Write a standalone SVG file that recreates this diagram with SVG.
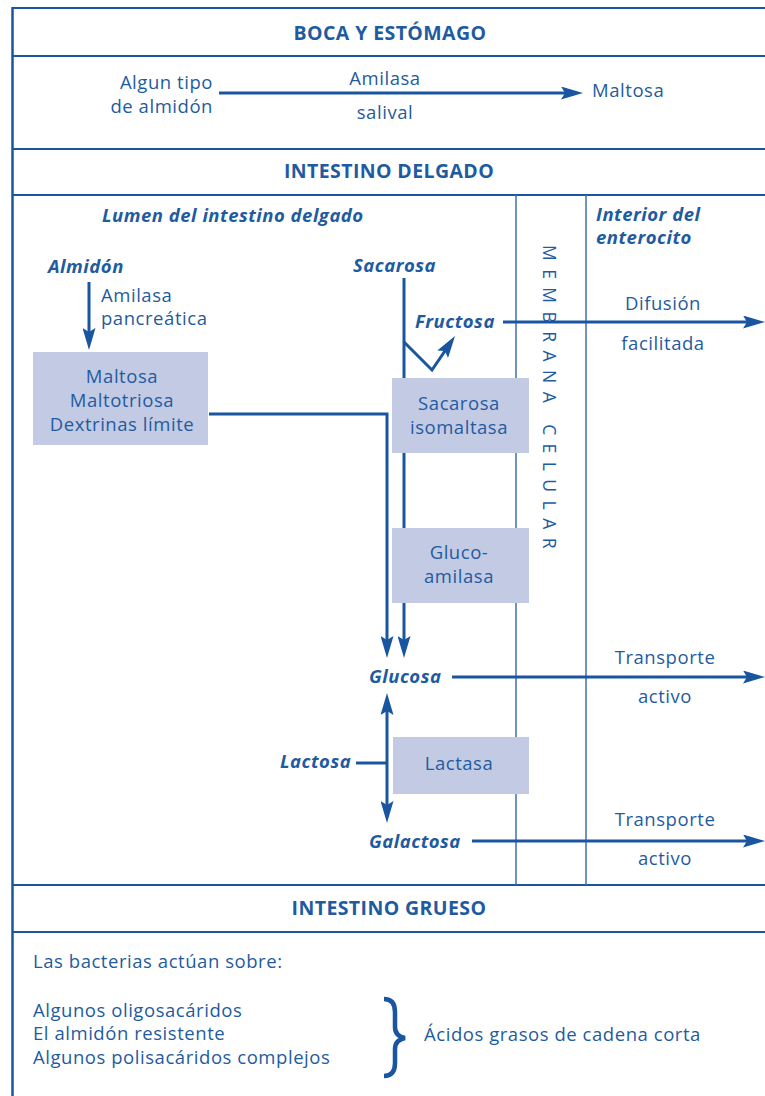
<svg xmlns="http://www.w3.org/2000/svg" width="765" height="1096" viewBox="0 0 765 1096">
<style>
text{font-family:"Open Sans","Liberation Sans",sans-serif;fill:#1f5ba0;font-size:18.5px;letter-spacing:0.55px}
.t{font-weight:bold;font-size:19.5px;letter-spacing:0.4px}
.bi{font-weight:bold;font-style:italic;letter-spacing:0.5px}
.m{text-anchor:middle}
.e{text-anchor:end}
.frame{stroke:#1a56a0;stroke-width:2;fill:none}
.mem{stroke:#3d70b0;stroke-width:1.5;fill:none}
.arr{stroke:#1a56a0;stroke-width:3;fill:none;marker-end:url(#ah)}
.ln{stroke:#1a56a0;stroke-width:3;fill:none}
.box{fill:#c3cae4}
</style>
<defs>
<marker id="ah" markerUnits="userSpaceOnUse" markerWidth="22" markerHeight="13" viewBox="0 0 22 13" refX="12" refY="6.5" orient="auto">
<path d="M0,0 L22,6.5 L0,13 L4,6.5 z" fill="#1a56a0"/>
</marker>
</defs>
<rect width="765" height="1096" fill="#ffffff"/>
<g id="frame">
<line class="frame" x1="12" y1="8" x2="765" y2="8"/>
<line class="frame" x1="12" y1="56" x2="765" y2="56"/>
<line class="frame" x1="12" y1="149" x2="765" y2="149"/>
<line class="frame" x1="12" y1="195" x2="765" y2="195"/>
<line class="frame" x1="12" y1="885" x2="765" y2="885"/>
<line class="frame" x1="12" y1="932" x2="765" y2="932"/>
<line class="frame" x1="12.5" y1="7" x2="12.5" y2="1096" style="stroke-width:2.5"/>
<line class="mem" x1="516" y1="195" x2="516" y2="885"/>
<line class="mem" x1="586" y1="195" x2="586" y2="885"/>
</g>
<g id="titles">
<text class="t m" x="390" y="40">BOCA Y ESTÓMAGO</text>
<text class="t m" x="389" y="178">INTESTINO DELGADO</text>
<text class="t m" x="389" y="915">INTESTINO GRUESO</text>
</g>
<g id="boca">
<text class="e" x="213" y="89">Algun tipo</text>
<text class="e" x="213" y="113">de almidón</text>
<text class="m" x="385" y="85">Amilasa</text>
<text class="m" x="385" y="119">salival</text>
<text x="592" y="97">Maltosa</text>
</g>
<g id="regions">
<text class="bi" x="102" y="222">Lumen del intestino delgado</text>
<text class="bi" x="596" y="221">Interior del</text>
<text class="bi" x="596" y="244">enterocito</text>
<text x="543" y="245" transform="rotate(90 543 245)" textLength="304" lengthAdjust="spacing" style="font-size:17.5px">MEMBRANA CELULAR</text>
</g>
<g id="connectors">
<path class="arr" d="M219,93 H573"/>
<path class="arr" d="M89,282 V340"/>
<path class="arr" d="M209,414 H387 V648"/>
<path class="arr" d="M404,278 V648"/>
<path class="arr" d="M404,342 L432,370 L449.4,344.3"/>
<path class="arr" d="M503,322 H755"/>
<path class="arr" d="M452,677 H755"/>
<path class="arr" d="M472,841 H755"/>
<path class="arr" d="M387,763 V703"/>
<path class="arr" d="M387,763 V813"/>
<path class="ln" d="M356,763 H387"/>
</g>
<g id="almidon">
<text class="bi" x="48" y="273">Almidón</text>
<text x="101" y="302">Amilasa</text>
<text x="101" y="325">pancreática</text>
</g>
<g id="box-maltosa">
<rect class="box" x="33" y="352" width="175" height="93"/>
<text class="m" x="122" y="383">Maltosa</text>
<text class="m" x="122" y="407">Maltotriosa</text>
<text class="m" x="122" y="431">Dextrinas límite</text>
</g>
<g id="sacarosa">
<text class="bi" x="353" y="272">Sacarosa</text>
</g>
<g id="fructosa">
<text class="bi" x="415" y="328">Fructosa</text>
<text class="m" x="663" y="310">Difusión</text>
<text class="m" x="663" y="350">facilitada</text>
</g>
<g id="box-sacarosa-isomaltasa">
<rect class="box" x="392" y="378" width="137" height="75"/>
<text class="m" x="459" y="410">Sacarosa</text>
<text class="m" x="459" y="434">isomaltasa</text>
</g>
<g id="box-glucoamilasa">
<rect class="box" x="392" y="528" width="137" height="75"/>
<text class="m" x="459" y="559">Gluco-</text>
<text class="m" x="459" y="583">amilasa</text>
</g>
<g id="glucosa">
<text class="bi" x="369" y="683">Glucosa</text>
<text class="m" x="665" y="664">Transporte</text>
<text class="m" x="665" y="703">activo</text>
</g>
<g id="lactosa">
<text class="bi" x="280" y="768">Lactosa</text>
</g>
<g id="box-lactasa">
<rect class="box" x="393" y="737" width="136" height="57"/>
<text class="m" x="459" y="770">Lactasa</text>
</g>
<g id="galactosa">
<text class="bi" x="369" y="848">Galactosa</text>
<text class="m" x="665" y="826">Transporte</text>
<text class="m" x="665" y="865">activo</text>
</g>
<g id="grueso">
<text x="33" y="968">Las bacterias actúan sobre:</text>
<text x="33" y="1017">Algunos oligosacáridos</text>
<text x="33" y="1040">El almidón resistente</text>
<text x="33" y="1064">Algunos polisacáridos complejos</text>
<path d="M384,999 Q395,999 395,1012 L395,1027 Q395,1036 405,1038 Q395,1040 395,1049 L395,1063 Q395,1076 384,1076" fill="none" stroke="#1a56a0" stroke-width="4.5"/>
<text x="424" y="1041">Ácidos grasos de cadena corta</text>
</g>
</svg>
